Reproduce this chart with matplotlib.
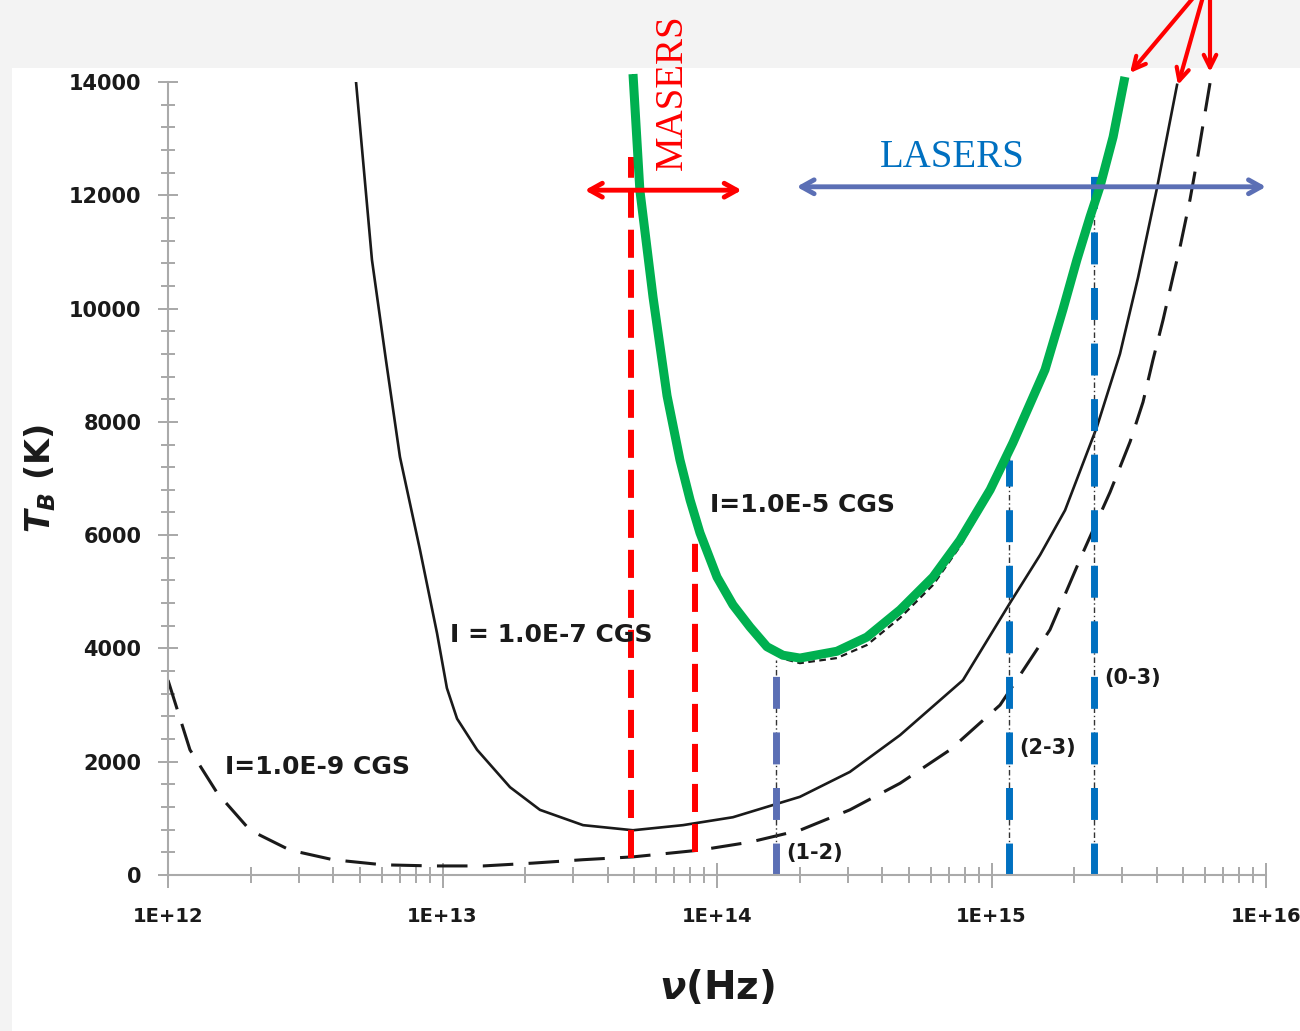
import numpy as np
import matplotlib.pyplot as plt
from matplotlib.patches import Rectangle

plt.rcParams['mathtext.fontset'] = 'custom'
plt.rcParams['mathtext.it'] = 'DejaVu Sans:bold:italic'
plt.rcParams['mathtext.rm'] = 'DejaVu Sans:bold'
plt.rcParams['mathtext.bf'] = 'DejaVu Sans:bold'

# brightness temperature curves (log10 of frequency in Hz, T_B in K)
log_e5 = [13.694, 13.719, 13.767, 13.818, 13.865, 13.902, 13.938, 14.000, 14.058,
          14.120, 14.182, 14.240, 14.302, 14.437, 14.546, 14.667, 14.787, 14.885,
          14.995, 15.078, 15.195, 15.260, 15.311, 15.359, 15.395, 15.443, 15.486]
tb_e5 = [14140, 12090, 10200, 8460, 7330, 6620, 6040, 5260, 4770, 4380, 4030, 3880,
         3830, 3950, 4200, 4680, 5260, 5910, 6800, 7630, 8920, 9980, 10860, 11620,
         12150, 13030, 14090]
tb_e5_black = [14140, 12090, 10200, 8460, 7330, 6620, 6040, 5260, 4770, 4380, 4000,
               3820, 3740, 3830, 4060, 4540, 5120, 5800, 6720, 7560, 8870, 9940,
               10830, 11600, 12140, 13030, 14090]

log_e7 = [12.685, 12.743, 12.794, 12.845, 12.918, 12.980, 13.016, 13.053, 13.126,
          13.246, 13.355, 13.512, 13.694, 13.876, 14.058, 14.302, 14.484, 14.667,
          14.896, 15.067, 15.177, 15.268, 15.384, 15.468, 15.534, 15.603, 15.676]
tb_e7 = [14000, 10860, 9090, 7380, 5740, 4270, 3300, 2760, 2210, 1550, 1150, 880,
         790, 880, 1020, 1380, 1820, 2470, 3440, 4800, 5650, 6440, 7910, 9200, 10550,
         12130, 13950]

log_e9 = [12.000, 12.080, 12.179, 12.299, 12.444, 12.601, 12.783, 12.965, 13.148,
          13.330, 13.512, 13.694, 13.938, 14.120, 14.302, 14.484, 14.667, 14.849,
          15.031, 15.104, 15.213, 15.333, 15.432, 15.505, 15.552, 15.588, 15.625,
          15.661, 15.687, 15.723, 15.749, 15.796]
tb_e9 = [3440, 2210, 1450, 790, 440, 270, 180, 160, 160, 210, 270, 320, 440, 580,
         790, 1150, 1620, 2210, 3000, 3530, 4330, 5690, 6760, 7650, 8350, 9090, 9800,
         10560, 11090, 11920, 12620, 13980]

# transition lines
maser_nu = [4.87e13, 8.3e13]
maser_top = [12680, 5880]
maser_bot = [300, 400]
laser_nu = [1.64e14, 1.16e15, 2.36e15]
laser_top = [3800, 7330, 12410]
thin_top = [3800, 7600, 11700]
laser_lab = ['(1-2)', '(2-3)', '(0-3)']
laser_lab_y = [390, 2240, 3480]
laser_col = ['#5b6fb5', '#0070c0', '#0070c0']

nu_e5 = 10 ** np.array(log_e5)
nu_e7 = 10 ** np.array(log_e7)
nu_e9 = 10 ** np.array(log_e9)

fig = plt.figure(figsize=(13, 10.31), dpi=100, facecolor='#f3f3f3')
fig.patches.append(Rectangle((12 / 1300, 0), 1, 1 - 68 / 1031, transform=fig.transFigure,
                             facecolor='white', edgecolor='none', zorder=-1))
ax = fig.add_axes([168 / 1300, 1 - 875 / 1031, 1098 / 1300, 793 / 1031])
ax.set_facecolor('none')
ax.set_xscale('log')
ax.set_xlim(1e12, 1e16)
ax.set_ylim(0, 14000)

ax.plot(nu_e9, tb_e9, color='#1a1a1a', lw=2.2, dashes=(10, 5), dash_capstyle='butt')
ax.plot(nu_e7, tb_e7, color='#1a1a1a', lw=1.9, solid_joinstyle='round')
ax.plot(nu_e5, tb_e5_black, color='#1a1a1a', lw=1.6, dashes=(3, 2), clip_on=False)

# thin dash-dot guides under the laser lines
for nu, top in zip(laser_nu, thin_top):
    ax.plot([nu, nu], [0, top], color='#333333', lw=1.0, dashes=(4, 2, 1, 2))

for nu, top, bot in zip(maser_nu, maser_top, maser_bot):
    ax.plot([nu, nu], [bot, top], color='#ff0000', lw=4.3, dashes=(4.7, 2),
            dash_capstyle='butt')
for nu, top, c in zip(laser_nu, laser_top, laser_col):
    ax.plot([nu, nu], [0, top], color=c, lw=5, dashes=(4.6, 3.4), dash_capstyle='butt')

ax.plot(nu_e5, tb_e5, color='#00b050', lw=6.5, clip_on=False, zorder=5,
        solid_capstyle='butt', solid_joinstyle='round')

# MASERS / LASERS arrows
arrow_style = '<->,head_length=0.9,head_width=0.5'
ax.annotate('', xy=(3.3e13, 12090), xytext=(1.23e14, 12090), annotation_clip=False,
            arrowprops=dict(arrowstyle=arrow_style, color='#ff0000', lw=3.5,
                            shrinkA=0, shrinkB=0), zorder=6)
ax.annotate('', xy=(1.95e14, 12150), xytext=(1.0e16, 12150), annotation_clip=False,
            arrowprops=dict(arrowstyle=arrow_style, color='#5b6fb5', lw=3.5,
                            shrinkA=0, shrinkB=0), zorder=6)
ax.text(6.9e13, 12450, 'MASERS', rotation=90, color='#ff0000', fontsize=28,
        family='Liberation Serif', ha='center', va='bottom')
ax.text(7.18e14, 12660, 'LASERS', color='#0070c0', fontsize=28,
        family='Liberation Serif', ha='center', va='center')

# red pointers from above the plot
for x0, x1, y1 in [(1200, 1130, 73), (1205, 1178, 85), (1210, 1210, 72)]:
    ax.annotate('', xy=(x1 / 1300, 1 - y1 / 1031), xytext=(x0 / 1300, 1.01),
                xycoords='figure fraction', textcoords='figure fraction',
                annotation_clip=False,
                arrowprops=dict(arrowstyle='->,head_length=0.9,head_width=0.45',
                                color='#ff0000', lw=3, shrinkA=0, shrinkB=0))

# curve labels
lab = dict(fontsize=18, fontweight='bold', color='#1a1a1a', ha='left', va='center')
ax.text(9.42e13, 6530, 'I=1.0E-5 CGS', **lab)
ax.text(1.064e13, 4240, 'I = 1.0E-7 CGS', **lab)
ax.text(1.61e12, 1910, 'I=1.0E-9 CGS', **lab)
for nu, t, y in zip(laser_nu, laser_lab, laser_lab_y):
    ax.text(nu * 1.09, y, t, fontsize=15, fontweight='bold', color='#1a1a1a',
            ha='left', va='center')

ax.set_yticks(np.arange(0, 14001, 2000))
ax.set_yticks(np.arange(0, 14001, 400), minor=True)
ax.set_xticks([1e12, 1e13, 1e14, 1e15, 1e16])
ax.set_xticklabels(['1E+12', '1E+13', '1E+14', '1E+15', '1E+16'])
ax.tick_params(axis='both', which='both', direction='inout', color='#999999', width=1.2)
ax.tick_params(axis='y', which='major', length=14, pad=12, labelsize=15)
ax.tick_params(axis='y', which='minor', length=10)
ax.tick_params(axis='x', which='major', length=18, pad=14, labelsize=14)
ax.tick_params(axis='x', which='minor', length=12)
for lb in ax.get_xticklabels() + ax.get_yticklabels():
    lb.set_fontweight('bold')
    lb.set_color('#1a1a1a')
for s in ['top', 'right']:
    ax.spines[s].set_visible(False)
for s in ['left', 'bottom']:
    ax.spines[s].set_color('#aaaaaa')
    ax.spines[s].set_linewidth(1.5)

ax.set_xlabel(r'$\nu$(Hz)', fontsize=28, fontweight='bold', color='#1a1a1a', labelpad=30)
ax.set_ylabel(r'$T_B$ (K)', fontsize=24, fontweight='bold', color='#1a1a1a', labelpad=8)

fig.savefig('out.png', dpi=100, facecolor=fig.get_facecolor())
